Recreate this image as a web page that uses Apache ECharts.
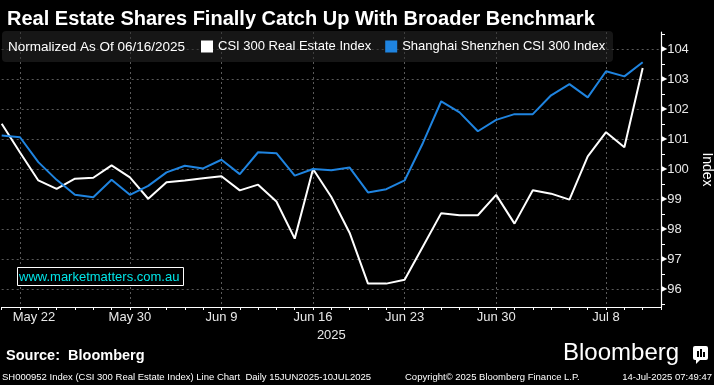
<!DOCTYPE html>
<html><head><meta charset="utf-8">
<script src="https://cdn.jsdelivr.net/npm/echarts@6/dist/echarts.min.js"></script>
<style>html,body{margin:0;padding:0;background:#000}#c{width:714px;height:385px}</style>
</head><body><div id="c"></div>
<script>
// Trading days (last entry is an empty padding slot at the right edge of the axis)
const categories = ['May 21','May 22','May 23','May 26','May 27','May 28','May 29','May 30',
  'Jun 3','Jun 4','Jun 5','Jun 6','Jun 9','Jun 10','Jun 11','Jun 12','Jun 13',
  'Jun 16','Jun 17','Jun 18','Jun 19','Jun 20','Jun 23','Jun 24','Jun 25','Jun 26','Jun 27',
  'Jun 30','Jul 1','Jul 2','Jul 3','Jul 4','Jul 7','Jul 8','Jul 9','Jul 10',''];
const realEstate = [101.51,100.55,99.62,99.34,99.68,99.71,100.12,99.72,
  99.01,99.56,99.62,99.69,99.76,99.29,99.48,98.92,97.68,
  100.00,99.07,97.87,96.18,96.18,96.31,97.42,98.53,98.46,98.46,
  99.14,98.18,99.29,99.18,98.98,100.42,101.23,100.73,103.37];
const csi300 = [101.12,101.06,100.23,99.64,99.14,99.06,99.64,99.14,
  99.44,99.89,100.11,100.02,100.31,99.83,100.56,100.53,99.78,
  100.00,99.96,100.05,99.22,99.33,99.62,100.87,102.26,101.89,101.26,
  101.64,101.83,101.83,102.46,102.83,102.39,103.26,103.09,103.56];
const labelledDates = ['May 22','May 30','Jun 9','Jun 16','Jun 23','Jun 30','Jul 8'];
const yTicks = [96,97,98,99,100,101,102,103,104];
const yMinorTicks = [95.5,96.5,97.5,98.5,99.5,100.5,101.5,102.5,103.5,104.5];
const seriesNames = ['CSI 300 Real Estate Index','Shanghai Shenzhen CSI 300 Index'];
const titleText = 'Real Estate Shares Finally Catch Up With Broader Benchmark';
const normText = 'Normalized As Of 06/16/2025';
const yearText = '2025';

const FF = 'Liberation Sans, Arial, sans-serif';
const chart = echarts.init(document.getElementById('c'), null, {renderer:'canvas'});
const isLabelled = (i) => labelledDates.indexOf(categories[i]) >= 0;
const gridLine = {show:true, lineStyle:{color:'#5a5a5a', type:[2,3], width:1}};

chart.setOption({
  backgroundColor:'#000',
  animation:false,
  title:{text:titleText, left:2, top:4,
    textStyle:{color:'#fff', fontSize:20, fontWeight:'bold', fontFamily:FF}},
  legend:{data:seriesNames, left:201, top:40, padding:0, itemGap:14,
    icon:'rect', itemWidth:12, itemHeight:12, selectedMode:false,
    textStyle:{color:'#fff', fontSize:13, fontFamily:FF}},
  grid:{left:1.7, right:53, top:32, bottom:78, containLabel:false, outerBoundsMode:'none'},
  xAxis:{type:'category', data:categories, boundaryGap:false,
    name:yearText, nameLocation:'middle', nameGap:20,
    nameTextStyle:{color:'#e8e8e8', fontSize:13, fontFamily:FF},
    axisLine:{lineStyle:{color:'#fff', width:1.2}},
    axisTick:{show:true, interval:0, length:3, lineStyle:{color:'#fff'}},
    axisLabel:{interval:(i)=>isLabelled(i), color:'#e8e8e8', fontSize:13, fontFamily:FF, margin:4,
      formatter:(v)=> v==='May 22' ? '{s|'+v+'}' : v,
      rich:{s:{padding:[0,0,0,28], color:'#e8e8e8', fontSize:13, fontFamily:FF}}},
    splitLine:Object.assign({interval:(i)=>isLabelled(i)}, gridLine)},
  yAxis:[{type:'value', position:'right', min:95.4, max:104.57, scale:true,
    name:'Index', nameLocation:'middle', nameRotate:-90, nameGap:31,
    nameTextStyle:{color:'#fff', fontSize:14, fontFamily:FF},
    axisLine:{show:true, lineStyle:{color:'#fff', width:1.2}},
    axisTick:{show:false, customValues:yTicks},
    axisLabel:{customValues:yTicks, margin:0, color:'#e8e8e8', fontSize:13, fontFamily:FF,
      formatter:(v)=>'{t|\u25B6}{v|'+v+'}',
      rich:{t:{fontSize:8, color:'#fff', fontFamily:'DejaVu Sans'}, v:{fontSize:13, color:'#e8e8e8', fontFamily:FF}}},
    splitLine:gridLine},
   {type:'value', position:'right', min:95.4, max:104.57,
    axisLine:{show:false},
    axisTick:{show:true, inside:false, length:4, customValues:yMinorTicks, lineStyle:{color:'#fff'}},
    axisLabel:{show:false}, splitLine:{show:false}}],
  graphic:[
    {type:'rect', z:1, shape:{x:2, y:31, width:611, height:31, r:4},
      style:{fill:'rgba(40,40,40,0.55)'}},
    {type:'text', z:5, x:8, y:47, style:{text:normText, fill:'#fff', font:'13.5px '+FF, verticalAlign:'middle'}},
    {type:'rect', z:5, shape:{x:17.5, y:267.5, width:166, height:18},
      style:{fill:'#000', stroke:'#fff', lineWidth:1}},
    {type:'text', z:6, x:19, y:277, style:{text:'www.marketmatters.com.au', fill:'#00e5e8', font:'13px '+FF, verticalAlign:'middle'}},
    {type:'text', z:5, x:6, y:356, style:{text:'Source:  Bloomberg', fill:'#fff', font:'bold 14.5px '+FF, verticalAlign:'middle'}},
    {type:'text', z:5, x:563, y:353, style:{text:'Bloomberg', fill:'#fff', font:'24px '+FF, verticalAlign:'middle'}},
    {type:'rect', z:5, shape:{x:693, y:346, width:15, height:14, r:2}, style:{fill:'#fff'}},
    {type:'polygon', z:5, shape:{points:[[696,359],[701,359],[696,364]]}, style:{fill:'#fff'}},
    {type:'rect', z:6, shape:{x:697, y:351, width:2, height:6}, style:{fill:'#000'}},
    {type:'rect', z:6, shape:{x:700, y:349, width:2, height:8}, style:{fill:'#000'}},
    {type:'rect', z:6, shape:{x:703, y:352, width:2, height:5}, style:{fill:'#000'}},
    {type:'text', z:5, x:2, y:377, style:{text:'SH000952 Index (CSI 300 Real Estate Index) Line Chart  Daily 15JUN2025-10JUL2025', fill:'#fff', font:'9.5px '+FF, verticalAlign:'middle'}},
    {type:'text', z:5, x:405, y:377, style:{text:'Copyright\u00A9 2025 Bloomberg Finance L.P.', fill:'#fff', font:'9.5px '+FF, verticalAlign:'middle'}},
    {type:'text', z:5, x:712, y:377, style:{text:'14-Jul-2025 07:49:47', fill:'#fff', font:'9.5px '+FF, verticalAlign:'middle', align:'right'}}
  ],
  series:[
    {name:seriesNames[0], type:'line', data:realEstate, symbol:'none', smooth:false,
      lineStyle:{color:'#ffffff', width:2}, itemStyle:{color:'#ffffff'}, z:3},
    {name:seriesNames[1], type:'line', data:csi300, symbol:'none', smooth:false,
      lineStyle:{color:'#1f84e0', width:2}, itemStyle:{color:'#1f84e0'}, z:3}
  ]
});
</script></body></html>
